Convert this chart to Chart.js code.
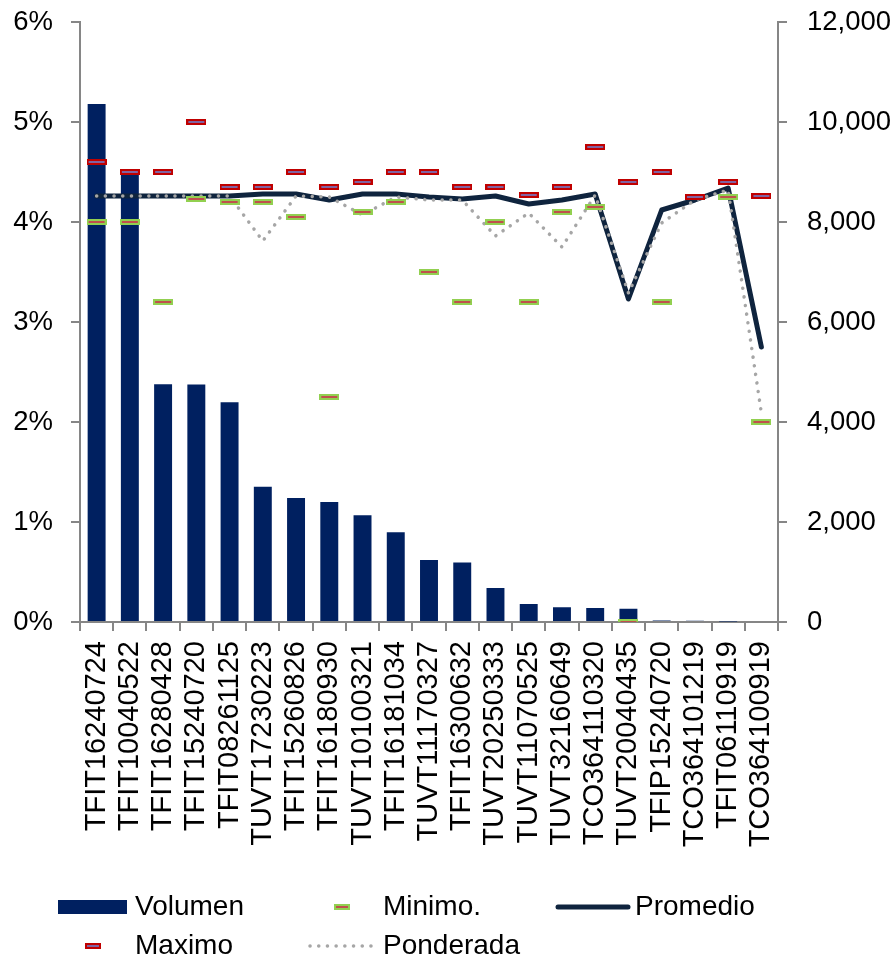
<!DOCTYPE html>
<html>
<head>
<meta charset="utf-8">
<script src="https://cdn.jsdelivr.net/npm/chart.js@4.4.1/dist/chart.umd.min.js"></script>
<style>
  html, body { margin: 0; padding: 0; background: #fff; }
  #wrap { width: 895px; height: 959px; position: relative; }
</style>
</head>
<body>
<div id="wrap"><canvas id="chart"></canvas></div>
<script>
const categories = ['TFIT16240724', 'TFIT10040522', 'TFIT16280428', 'TFIT15240720', 'TFIT08261125',
  'TUVT17230223', 'TFIT15260826', 'TFIT16180930', 'TUVT10100321', 'TFIT16181034', 'TUVT11170327',
  'TFIT16300632', 'TUVT20250333', 'TUVT11070525', 'TUVT32160649', 'TCO364110320', 'TUVT20040435',
  'TFIP15240720', 'TCO364101219', 'TFIT06110919', 'TCO364100919'];

// volume, right axis
const volumen = [10360, 9000, 4755, 4750, 4395, 2705, 2480, 2400, 2135, 1795, 1240,
  1190, 680, 360, 295, 280, 265, 30, 25, 10, 0];

// rates in %, left axis
const minimo = [4.0, 4.0, 3.2, 4.23, 4.2, 4.2, 4.05, 2.25, 4.1, 4.2, 3.5,
  3.2, 4.0, 3.2, 4.1, 4.15, 0.0, 3.2, 4.25, 4.25, 2.0];
const maximo = [4.6, 4.5, 4.5, 5.0, 4.35, 4.35, 4.5, 4.35, 4.4, 4.5, 4.5,
  4.35, 4.35, 4.27, 4.35, 4.75, 4.4, 4.5, 4.25, 4.4, 4.26];
const promedio = [4.26, 4.26, 4.26, 4.26, 4.26, 4.28, 4.28, 4.22, 4.28, 4.28, 4.25,
  4.23, 4.26, 4.18, 4.22, 4.28, 3.23, 4.12, 4.22, 4.34, 2.75];
const ponderada = [4.26, 4.26, 4.26, 4.26, 4.26, 3.81, 4.26, 4.25, 4.07, 4.25, 4.22,
  4.22, 3.86, 4.09, 3.75, 4.27, 3.29, 3.99, 4.22, 4.32, 2.09];

const leftTicks = [0, 1, 2, 3, 4, 5, 6];
const rightTicks = [0, 2000, 4000, 6000, 8000, 10000, 12000];

const axisGray = '#868686';
const barColor = '#002060';
const lineColor = '#0f243e';
const dotColor = '#a6a6a6';
const FONT = "'Liberation Sans', Arial, sans-serif";

Chart.defaults.font.family = FONT;
Chart.defaults.color = '#000';

// excel-like dash markers
function dashMarker(outer, inner, w, h) {
  const c = document.createElement('canvas');
  c.width = w; c.height = h;
  const g = c.getContext('2d');
  g.fillStyle = outer;
  g.fillRect(0, 0, w, h);
  g.fillStyle = inner;
  g.fillRect(2, Math.floor(h / 2) - 1, w - 4, 2);
  return c;
}
const minMarker = dashMarker('#92d050', '#c0504d', 20, 6);
const maxMarker = dashMarker('#c00000', '#8064a2', 20, 6);
const minMarkerSmall = dashMarker('#92d050', '#c0504d', 16, 6);
const maxMarkerSmall = dashMarker('#c00000', '#8064a2', 16, 6);

const bottomLegend = {
  id: 'bottomLegend',
  afterDraw(chart) {
    const ctx = chart.ctx;
    const ds = chart.data.datasets;
    const r1 = 907, r2 = 946;
    ctx.save();
    ctx.font = '28px ' + FONT;
    ctx.textBaseline = 'middle';
    ctx.fillStyle = '#000';

    // Volumen
    ctx.fillStyle = barColor;
    ctx.fillRect(58, r1 - 7, 69, 14);
    ctx.fillStyle = '#000';
    ctx.fillText(ds[0].label, 135, r1);

    // Minimo.
    ctx.drawImage(minMarkerSmall, 334, r1 - 3);
    ctx.fillText(ds[1].label, 383, r1);

    // Promedio
    ctx.strokeStyle = lineColor;
    ctx.lineWidth = 5;
    ctx.lineCap = 'round';
    ctx.beginPath();
    ctx.moveTo(558, r1);
    ctx.lineTo(628, r1);
    ctx.stroke();
    ctx.fillText(ds[2].label, 635, r1);

    // Maximo
    ctx.drawImage(maxMarkerSmall, 85, r2 - 3);
    ctx.fillText(ds[3].label, 135, r2);

    // Ponderada
    ctx.strokeStyle = dotColor;
    ctx.lineWidth = 3.5;
    ctx.setLineDash([0.1, 8.6]);
    ctx.beginPath();
    ctx.moveTo(310, r2);
    ctx.lineTo(372, r2);
    ctx.stroke();
    ctx.setLineDash([]);
    ctx.fillText(ds[4].label, 383, r2);
    ctx.restore();
  }
};

// fixed axis width, no extra label padding above/below the plot
function fixVertical(width) {
  return (scale) => {
    scale.width = width;
    scale.paddingTop = 0;
    scale.paddingBottom = 0;
  };
}

const ctx = document.getElementById('chart').getContext('2d');

new Chart(ctx, {
  type: 'bar',
  data: {
    labels: categories,
    datasets: [
      {
        type: 'bar',
        label: 'Volumen',
        data: volumen,
        yAxisID: 'y1',
        backgroundColor: barColor,
        borderWidth: 0,
        barPercentage: 0.54,
        categoryPercentage: 1.0,
        order: 5
      },
      {
        type: 'line',
        label: 'Minimo.',
        data: minimo,
        yAxisID: 'y',
        showLine: false,
        pointStyle: minMarker,
        pointRadius: 10,
        order: 2
      },
      {
        type: 'line',
        label: 'Promedio',
        data: promedio,
        yAxisID: 'y',
        borderColor: lineColor,
        borderWidth: 5,
        borderJoinStyle: 'round',
        borderCapStyle: 'round',
        pointRadius: 0,
        tension: 0,
        order: 4
      },
      {
        type: 'line',
        label: 'Maximo',
        data: maximo,
        yAxisID: 'y',
        showLine: false,
        pointStyle: maxMarker,
        pointRadius: 10,
        order: 1
      },
      {
        type: 'line',
        label: 'Ponderada',
        data: ponderada,
        yAxisID: 'y',
        borderColor: dotColor,
        borderWidth: 3.5,
        borderDash: [0.1, 8.6],
        borderCapStyle: 'round',
        pointRadius: 0,
        tension: 0,
        order: 3
      }
    ]
  },
  options: {
    responsive: true,
    maintainAspectRatio: false,
    animation: false,
    layout: {
      padding: { left: 0, right: 0, top: 22, bottom: 87 }
    },
    plugins: {
      legend: { display: false },
      tooltip: { enabled: false }
    },
    scales: {
      x: {
        offset: true,
        grid: {
          offset: true,
          drawOnChartArea: false,
          color: axisGray,
          lineWidth: 2,
          tickLength: 9
        },
        border: { color: axisGray, width: 2 },
        ticks: {
          autoSkip: false,
          maxRotation: 90,
          minRotation: 90,
          padding: 10,
          font: { size: 29 }
        },
        afterFit: (scale) => { scale.height = 250; }
      },
      y: {
        position: 'left',
        min: 0,
        max: 6,
        afterBuildTicks: (scale) => { scale.ticks = leftTicks.map(v => ({ value: v })); },
        grid: {
          drawOnChartArea: false,
          color: axisGray,
          lineWidth: 2,
          tickLength: 9
        },
        border: { color: axisGray, width: 2 },
        ticks: {
          padding: 18,
          font: { size: 27.5 },
          callback: (v) => v + '%'
        },
        afterFit: fixVertical(80)
      },
      y1: {
        position: 'right',
        min: 0,
        max: 12000,
        afterBuildTicks: (scale) => { scale.ticks = rightTicks.map(v => ({ value: v })); },
        grid: {
          drawOnChartArea: false,
          color: axisGray,
          lineWidth: 2,
          tickLength: 9
        },
        border: { color: axisGray, width: 2 },
        ticks: {
          padding: 20,
          font: { size: 27.5 },
          callback: (v) => v.toLocaleString('en-US')
        },
        afterFit: fixVertical(117)
      }
    }
  },
  plugins: [bottomLegend]
});
</script>
</body>
</html>
